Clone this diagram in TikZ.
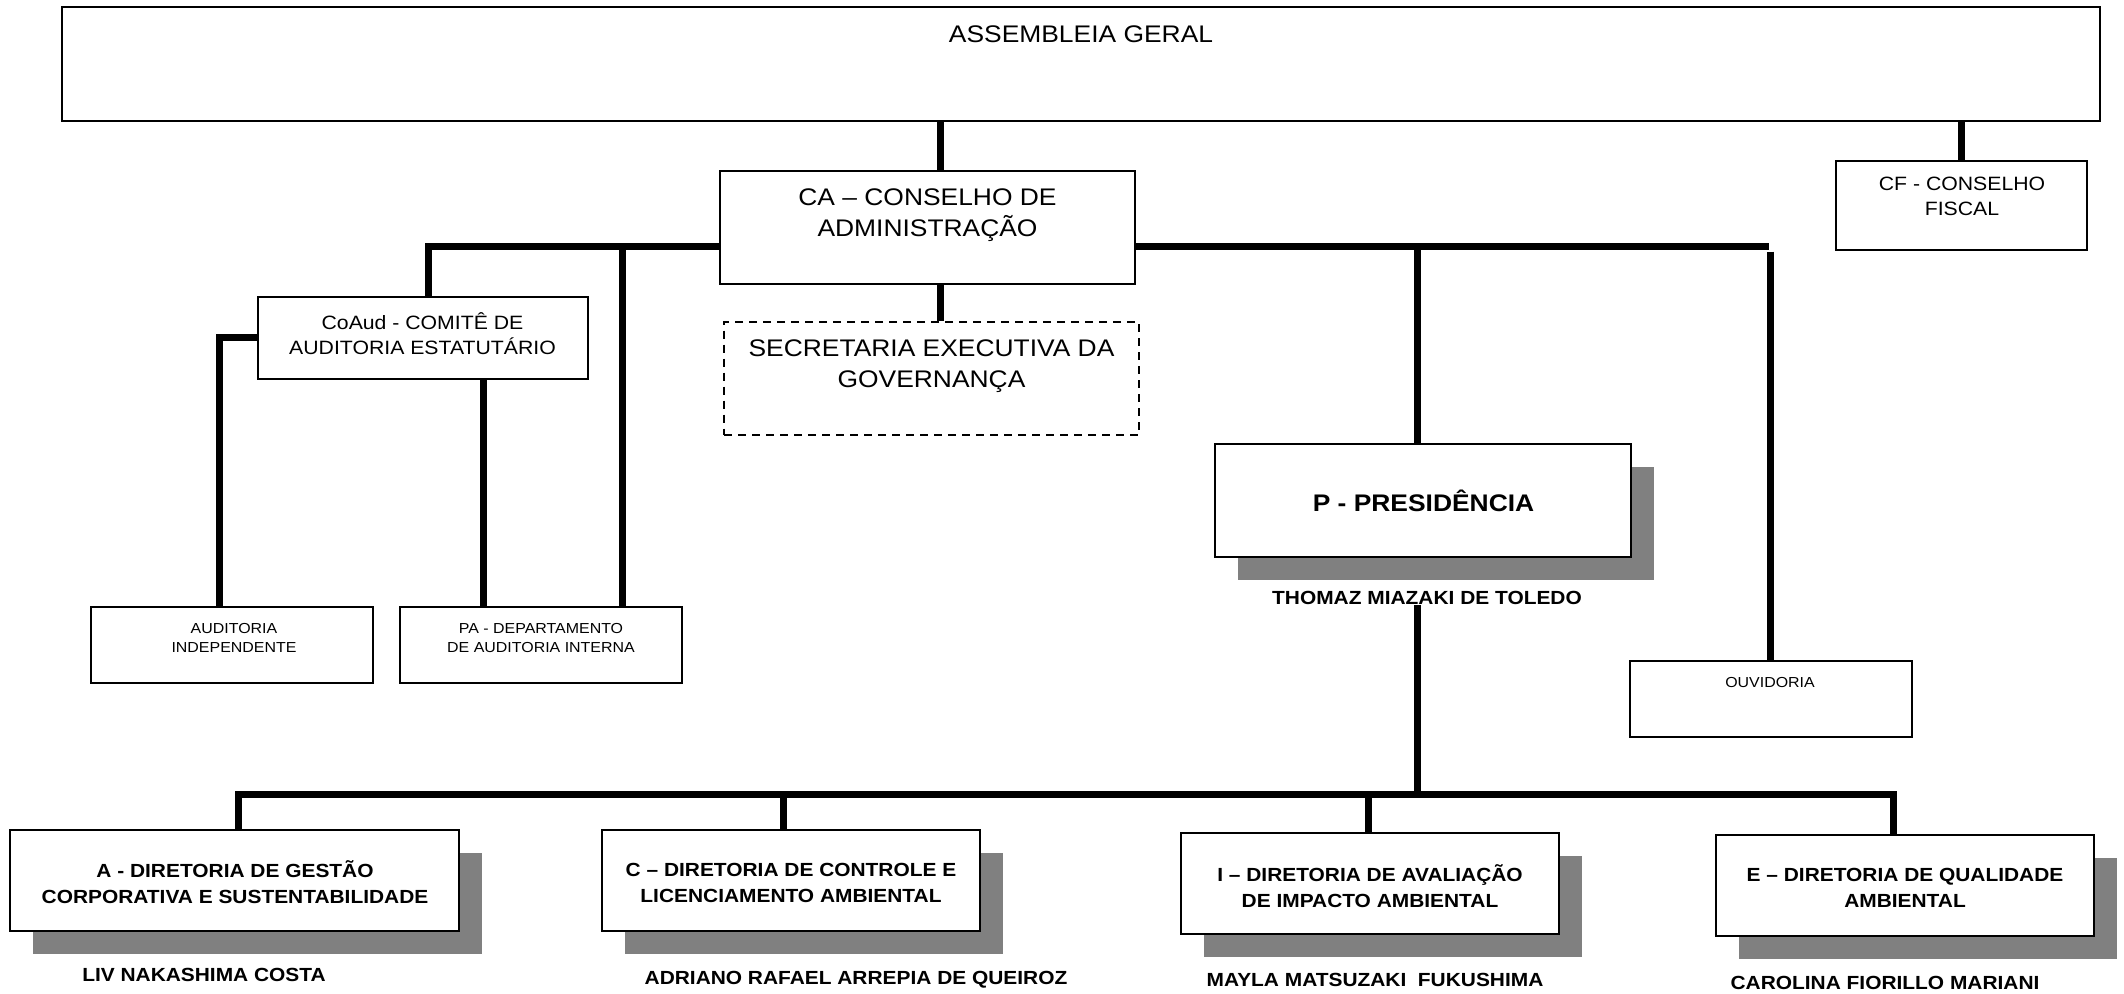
\documentclass[tikz,border=0pt]{standalone}
\usepackage{fontspec}
\setmainfont{Liberation Sans}[FakeStretch=1.1]
\usetikzlibrary{shadows}
\definecolor{ShadowClr}{RGB}{128,128,128}

\begin{document}
\begin{tikzpicture}[x=1pt,y=-1pt,
  box/.style={draw,line width=2pt,fill=white,inner sep=0pt},
  dashbox/.style={box,dash pattern=on 8pt off 6pt},
  shadowbox/.style={box,drop shadow={shadow xshift=23pt,shadow yshift=-23pt,opacity=1,fill=ShadowClr}},
  link/.style={line width=7pt},
  txt/.style={inner sep=0pt,align=center},
  bigtxt/.style={txt,font=\fontsize{24}{31}\selectfont},
  midtxt/.style={txt,font=\fontsize{19.3}{25}\selectfont},
  smalltxt/.style={txt,font=\fontsize{14.5}{19}\selectfont},
  boldtxt/.style={txt,font=\bfseries\fontsize{19}{26}\selectfont}]

\useasboundingbox (0,0) rectangle (2124,993);

\node[box,minimum width=2038pt,minimum height=114pt] (AG) at (1081,64) {};
\node[box,minimum width=415pt,minimum height=113pt] (CA) at (927.5,227.5) {};
\node[dashbox,minimum width=415pt,minimum height=113pt] (SEG) at (931.5,378) {};
\node[box,minimum width=251pt,minimum height=89pt] (CF) at (1961.5,205.5) {};
\node[box,minimum width=330pt,minimum height=82pt] (CoAud) at (423,338) {};
\node[box,minimum width=282pt,minimum height=76pt] (AudInd) at (232,645) {};
\node[box,minimum width=282pt,minimum height=76pt] (PA) at (541,645) {};
\node[shadowbox,minimum width=416pt,minimum height=113pt] (P) at (1423,500.5) {};
\node[box,minimum width=282pt,minimum height=76pt] (Ouv) at (1771,699) {};

\node[shadowbox,minimum width=449pt,minimum height=101pt] (DA) at (234.5,880.5) {};
\node[shadowbox,minimum width=378pt,minimum height=101pt] (DC) at (791,880.5) {};
\node[shadowbox,minimum width=378pt,minimum height=101pt] (DI) at (1370,883.5) {};
\node[shadowbox,minimum width=378pt,minimum height=101pt] (DE) at (1905,885.5) {};

\node[bigtxt] (tAG) at (1081,34) {ASSEMBLEIA GERAL};
\node[bigtxt] (tCA) at (927.5,215) {CA – CONSELHO DE\\ADMINISTRAÇÃO};
\node[bigtxt] (tSEG) at (931.5,366) {SECRETARIA EXECUTIVA DA\\GOVERNANÇA};
\node[midtxt] (tCF) at (1962,196.5) {CF - CONSELHO\\FISCAL};
\node[midtxt] (tCoAud) at (422.5,334) {CoAud - COMITÊ DE\\AUDITORIA ESTATUTÁRIO};
\node[smalltxt] (tAudInd) at (234,638) {AUDITORIA\\INDEPENDENTE};
\node[smalltxt] (tPA) at (541,637.5) {PA - DEPARTAMENTO\\DE AUDITORIA INTERNA};
\node[smalltxt] (tOuv) at (1770,682) {OUVIDORIA};
\node[boldtxt,font=\bfseries\fontsize{24}{28}\selectfont] (tP) at (1423.5,501) {P - PRESIDÊNCIA};

\node[boldtxt] (tDA) at (235,882) {A - DIRETORIA DE GESTÃO\\CORPORATIVA E SUSTENTABILIDADE};
\node[boldtxt] (tDC) at (791,883) {C – DIRETORIA DE CONTROLE E\\LICENCIAMENTO AMBIENTAL};
\node[boldtxt] (tDI) at (1370,886) {I – DIRETORIA DE AVALIAÇÃO\\DE IMPACTO AMBIENTAL};
\node[boldtxt] (tDE) at (1905,888) {E – DIRETORIA DE QUALIDADE\\AMBIENTAL};

\node[boldtxt] (nP) at (1427,598) {THOMAZ MIAZAKI DE TOLEDO};
\node[boldtxt] (nA) at (204,975) {LIV NAKASHIMA COSTA};
\node[boldtxt] (nC) at (856,980) {ADRIANO RAFAEL ARREPIA DE QUEIROZ};
\node[boldtxt] (nI) at (1375,980) {MAYLA MATSUZAKI\ \ FUKUSHIMA};
\node[boldtxt] (nE) at (1885,983) {CAROLINA FIORILLO MARIANI};

\coordinate (kCA) at (940,246);
\coordinate (kL) at (428,246);
\coordinate (kPA) at (622,246);
\coordinate (kAud) at (219,337);
\coordinate (kCoPA) at (483,379);
\coordinate (kR) at (1769,246);
\coordinate (kP) at (1417,246);
\coordinate (kOuv) at (1770,251.5);

\coordinate (bA) at (238,794);
\coordinate (bC) at (783,794);
\coordinate (bI) at (1368,794);
\coordinate (bE) at (1893,794);

\draw[link] (kCA |- AG.south) -- (kCA |- CA.north);
\draw[link] (kCA |- CA.south) -- (kCA |- SEG.north);
\draw[link] (CF.north) -- (CF.north |- AG.south);

\draw[link] (CA.west |- kL) -- (kL) -- (kL |- CoAud.north);
\draw[link] (kPA) -- (kPA |- PA.north);
\draw[link] (CoAud.west |- kAud) -- (kAud) -- (kAud |- AudInd.north);
\draw[link] (kCoPA |- CoAud.south) -- (kCoPA |- PA.north);

\draw[link] (CA.east |- kR) -- (kR);
\draw[link] (kP) -- (kP |- P.north);
\draw[link] (kOuv) -- (kOuv |- Ouv.north);

\draw[link] (kP |- nP.south) -- (kP |- bI);
\draw[link] (bA |- DA.north) -- (bA) -- (bE) -- (bE |- DE.north);
\draw[link] (bC) -- (bC |- DC.north);
\draw[link] (bI) -- (bI |- DI.north);

\end{tikzpicture}
\end{document}
